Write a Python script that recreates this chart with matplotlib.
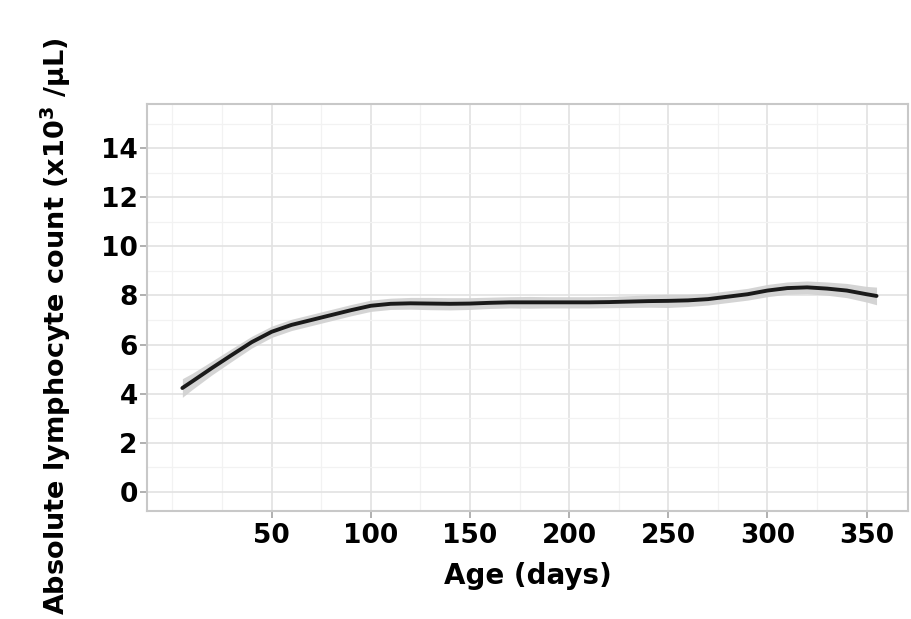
import matplotlib
matplotlib.use("Agg")
import matplotlib.pyplot as plt
import numpy as np
from matplotlib.ticker import MultipleLocator

plt.rcParams['font.family'] = ['DejaVu Sans']
plt.rcParams['mathtext.fontset'] = 'custom'
plt.rcParams['mathtext.bf'] = 'DejaVu Sans:bold'
plt.rcParams['mathtext.rm'] = 'DejaVu Sans:bold'

age_days = [5, 10, 20, 30, 40, 50, 60, 70, 80, 90, 100, 110, 120, 130, 140, 150,
            160, 170, 180, 190, 200, 210, 220, 230, 240, 250, 260, 270, 280, 290,
            300, 310, 320, 330, 340, 350, 355]
lymph_mean = [4.23, 4.5, 5.05, 5.58, 6.1, 6.52, 6.8, 7.0, 7.2, 7.4, 7.58, 7.66, 7.68,
              7.67, 7.66, 7.67, 7.7, 7.72, 7.72, 7.72, 7.72, 7.72, 7.73, 7.75, 7.77,
              7.78, 7.8, 7.85, 7.95, 8.05, 8.2, 8.3, 8.33, 8.28, 8.2, 8.05, 7.98]
ci_half = [0.38, 0.33, 0.28, 0.26, 0.24, 0.23, 0.23, 0.23, 0.23, 0.23, 0.23, 0.23, 0.24,
           0.25, 0.25, 0.24, 0.23, 0.23, 0.24, 0.23, 0.23, 0.23, 0.23, 0.24, 0.25,
           0.27, 0.25, 0.24, 0.24, 0.24, 0.25, 0.25, 0.26, 0.27, 0.29, 0.32, 0.36]
x_ticks = [50, 100, 150, 200, 250, 300, 350]
y_ticks = [0, 2, 4, 6, 8, 10, 12, 14]

x = np.array(age_days)
y = np.array(lymph_mean)
h = np.array(ci_half)

fig = plt.figure(figsize=(9.11, 6.19), dpi=100)
ax = fig.add_axes([0.161, 0.1745, 0.836, 0.6575])

ax.fill_between(x, y - h, y + h, color='#d0d0d0', alpha=0.9, lw=0, zorder=2)
ax.plot(x, y, color='#1a1a1a', lw=2.8, zorder=3, solid_capstyle='round')

ax.set_xlim(-13, 371)
ax.set_ylim(-0.78, 15.8)
ax.set_xticks(x_ticks)
ax.set_yticks(y_ticks)
ax.xaxis.set_minor_locator(MultipleLocator(25))
ax.yaxis.set_minor_locator(MultipleLocator(1))
ax.grid(which='major', color='#e2e2e2', lw=1.2, zorder=0)
ax.grid(which='minor', color='#f2f2f2', lw=0.9, zorder=0)
ax.set_axisbelow(True)

for s in ax.spines.values():
    s.set_color('#c8c8c8')
    s.set_linewidth(1.5)

ax.tick_params(which='major', length=5, width=1.3, color='#aaaaaa',
               labelsize=19)
ax.tick_params(axis='x', pad=4)
ax.tick_params(axis='y', pad=1.5)
ax.tick_params(which='minor', length=0)
for lab in ax.get_xticklabels() + ax.get_yticklabels():
    lab.set_fontweight('bold')

ax.set_xlabel('Age (days)', fontsize=20, fontweight='bold', labelpad=9)
ax.set_ylabel(r'Absolute lymphocyte count (x10$^{\mathbf{3}}$ /μL)', fontsize=19.5,
              fontweight='bold')
ax.yaxis.set_label_coords(-0.097, 0.455)

fig.savefig('out.png', dpi=100, facecolor='white')
